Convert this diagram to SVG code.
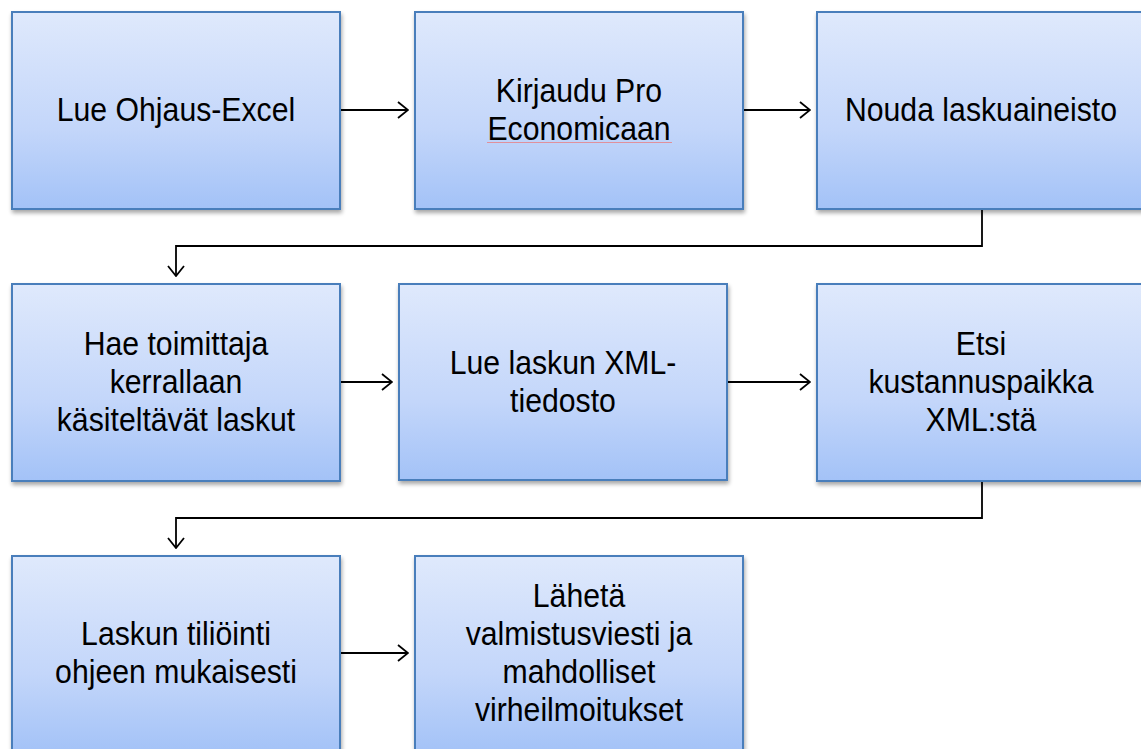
<svg xmlns="http://www.w3.org/2000/svg" width="1141" height="749" viewBox="0 0 1141 749">
<defs>
<linearGradient id="g" x1="0" y1="0" x2="0" y2="1">
<stop offset="0" stop-color="#dfe9fc"/>
<stop offset="0.6" stop-color="#c3d6fa"/>
<stop offset="1" stop-color="#a3c2f7"/>
</linearGradient>
<filter id="sh" x="-5%" y="-5%" width="115%" height="115%">
<feGaussianBlur in="SourceAlpha" stdDeviation="2"/>
<feOffset dx="1" dy="3" result="b"/>
<feComponentTransfer><feFuncA type="linear" slope="0.35"/></feComponentTransfer>
<feMerge><feMergeNode/><feMergeNode in="SourceGraphic"/></feMerge>
</filter>
<marker id="ah" viewBox="0 0 12 18" refX="11" refY="9" markerWidth="12" markerHeight="18" markerUnits="userSpaceOnUse" orient="auto">
<path d="M1,1 L11,9 L1,17" fill="none" stroke="#000" stroke-width="1.8"/>
</marker>
<style>
.box{fill:url(#g);stroke:#4a7ebb;stroke-width:2;filter:url(#sh)}
.t{font-family:"Liberation Sans",Arial,sans-serif;font-size:32.5px;fill:#000;text-anchor:middle}
.c{fill:none;stroke:#000;stroke-width:1.8}
</style>
</defs>
<rect width="1141" height="749" fill="#fff"/>
<g id="connectors">
<line class="c" x1="341" y1="110" x2="408" y2="110" marker-end="url(#ah)"/>
<line class="c" x1="744" y1="110" x2="810" y2="110" marker-end="url(#ah)"/>
<polyline class="c" points="982,210 982,246 176,246 176,276" marker-end="url(#ah)"/>
<line class="c" x1="341" y1="382" x2="392" y2="382" marker-end="url(#ah)"/>
<line class="c" x1="728" y1="382" x2="810" y2="382" marker-end="url(#ah)"/>
<polyline class="c" points="982,482 982,518 176,518 176,548" marker-end="url(#ah)"/>
<line class="c" x1="341" y1="653" x2="408" y2="653" marker-end="url(#ah)"/>
</g>
<g id="n1"><rect class="box" x="12" y="12" width="328" height="197"/><g transform="translate(176,0) scale(0.93,1)"><text class="t" x="0" y="121">Lue Ohjaus-Excel</text></g></g>
<g id="n2"><rect class="box" x="415" y="12" width="328" height="197"/><g transform="translate(579,0) scale(0.93,1)"><text class="t" x="0" y="102">Kirjaudu Pro</text><text class="t" x="0" y="140">Economicaan</text></g><path d="M487,142.5 L672,142.5" stroke="#e0909c" stroke-width="1.2" fill="none"/></g>
<g id="n3"><rect class="box" x="817" y="12" width="328" height="197"/><g transform="translate(981,0) scale(0.93,1)"><text class="t" x="0" y="121">Nouda laskuaineisto</text></g></g>
<g id="n4"><rect class="box" x="12" y="284" width="328" height="197"/><g transform="translate(176,0) scale(0.93,1)"><text class="t" x="0" y="355">Hae toimittaja</text><text class="t" x="0" y="393">kerrallaan</text><text class="t" x="0" y="431">käsiteltävät laskut</text></g></g>
<g id="n5"><rect class="box" x="399" y="284" width="328" height="196"/><g transform="translate(563,0) scale(0.93,1)"><text class="t" x="0" y="374">Lue laskun XML-</text><text class="t" x="0" y="412">tiedosto</text></g></g>
<g id="n6"><rect class="box" x="817" y="284" width="328" height="197"/><g transform="translate(981,0) scale(0.93,1)"><text class="t" x="0" y="355">Etsi</text><text class="t" x="0" y="393">kustannuspaikka</text><text class="t" x="0" y="431">XML:stä</text></g></g>
<g id="n7"><rect class="box" x="12" y="556" width="328" height="197"/><g transform="translate(176,0) scale(0.93,1)"><text class="t" x="0" y="645">Laskun tiliöinti</text><text class="t" x="0" y="683">ohjeen mukaisesti</text></g></g>
<g id="n8"><rect class="box" x="415" y="556" width="328" height="197"/><g transform="translate(579,0) scale(0.93,1)"><text class="t" x="0" y="607">Lähetä</text><text class="t" x="0" y="645">valmistusviesti ja</text><text class="t" x="0" y="683">mahdolliset</text><text class="t" x="0" y="721">virheilmoitukset</text></g></g>
</svg>
